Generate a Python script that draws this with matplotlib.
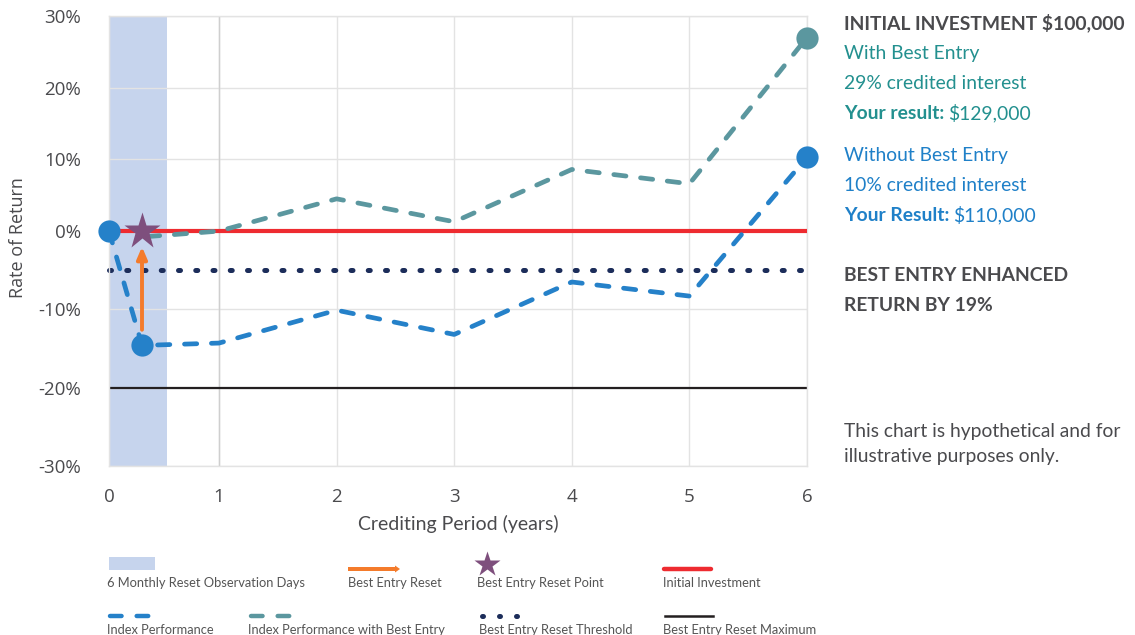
import numpy as np
import matplotlib
matplotlib.use("Agg")
import matplotlib.pyplot as plt
from matplotlib.lines import Line2D
from matplotlib.patches import Rectangle, FancyArrow

# ---------------- data ----------------
years_ticks = [0, 1, 2, 3, 4, 5, 6]
return_ticks = [-30, -20, -10, 0, 10, 20, 30]
return_tick_labels = ["-30%", "-20%", "-10%", "0%", "10%", "20%", "30%"]

index_x = [0, 0.3, 1, 2, 3, 4, 5, 6]
index_y = [0, -14.6, -14.3, -10.1, -13.2, -6.5, -8.3, 10.3]

best_x = [0.35, 1, 2, 3, 4, 5, 6]
best_y = [-0.7, 0, 4.5, 1.3, 8.6, 6.6, 27.0]

observation_end = 0.53          # 6 monthly reset observation window
reset_point_x = 0.3
reset_point_y = 0
reset_arrow_from = -12.6
reset_arrow_to = -2.0
initial_investment = 0
reset_threshold = -5
reset_maximum = -20

# ---------------- colours ----------------
C_BLUE = "#2581c9"
C_TEAL = "#5b979f"
C_RED = "#ee2b30"
C_NAVY = "#1c2d5a"
C_ORANGE = "#f47b2b"
C_STAR = "#7e4f7d"
C_SHADE = "#c6d4ed"
C_BLACK = "#231f20"
C_GRID = "#e3e3e3"
C_TXT = "#4a4a4d"

W, H = 1135, 635
fig = plt.figure(figsize=(W / 100, H / 100), dpi=100)
fig.patch.set_facecolor("white")


def fx_pix(x):
    return x / W


def fy_pix(y):
    return 1 - y / H


ax = fig.add_axes([fx_pix(109), fy_pix(466), (807 - 109) / W, (466 - 16) / H])


# piecewise scales (the reference axis is not perfectly linear)
def yfwd(y):
    y = np.asarray(y, dtype=float)
    return np.where(y >= 0, y * 7.17, y * 7.83)


def yinv(v):
    v = np.asarray(v, dtype=float)
    return np.where(v >= 0, v / 7.17, v / 7.83)


def xfwd(x):
    x = np.asarray(x, dtype=float)
    return np.where(x <= 1, x * 110.0, 110.0 + (x - 1) * 117.6)


def xinv(v):
    v = np.asarray(v, dtype=float)
    return np.where(v <= 110.0, v / 110.0, 1 + (v - 110.0) / 117.6)


ax.set_yscale("function", functions=(yfwd, yinv))
ax.set_xscale("function", functions=(xfwd, xinv))
ax.set_xlim(0, 6)
ax.set_ylim(-30, 30)

# grid
ax.set_xticks(years_ticks)
ax.set_yticks(return_ticks)
ax.set_yticklabels(return_tick_labels)
ax.grid(True, color=C_GRID, lw=1.0)
ax.tick_params(length=0)
ax.tick_params(axis="y", pad=20, labelsize=13.5, labelcolor=C_TXT)
ax.tick_params(axis="x", pad=16, labelsize=13.5, labelcolor=C_TXT)
for lab in ax.get_xticklabels() + ax.get_yticklabels():
    lab.set_fontfamily("Open Sans")
for s in ax.spines.values():
    s.set_color(C_GRID)
    s.set_linewidth(1.0)
# slightly darker gridline at year 1
ax.axvline(1, color="#cfcfcf", lw=1.0, zorder=1.6)

# observation window
ax.axvspan(0, observation_end, color=C_SHADE, lw=0, zorder=1)

# reference lines
ax.plot([0, 6], [reset_maximum] * 2, color=C_BLACK, lw=1.6, zorder=2)
ax.plot([0, 6], [reset_threshold] * 2, color=C_NAVY, lw=3.6,
        dashes=(0.4, 3.05), dash_capstyle="round", zorder=2.5, clip_on=False)
ax.plot([0, 6], [initial_investment] * 2, color=C_RED, lw=3.0, zorder=3)

# performance lines
ax.plot(index_x, index_y, color=C_BLUE, lw=3.4, dashes=(2.6, 3.1),
        dash_capstyle="round", zorder=4)
ax.plot(best_x, best_y, color=C_TEAL, lw=3.4, dashes=(2.6, 3.1),
        dash_capstyle="round", zorder=4)

# markers
ax.plot([index_x[0], index_x[1], index_x[-1]],
        [index_y[0], index_y[1], index_y[-1]],
        "o", color=C_BLUE, ms=16, mec="none", zorder=6, clip_on=False)
ax.plot([best_x[-1]], [best_y[-1]], "o", color=C_TEAL, ms=16, mec="none",
        zorder=6, clip_on=False)
ax.plot([reset_point_x], [reset_point_y], "*", color=C_STAR, ms=28, mec="none", zorder=7)

# best entry reset arrow
ax.annotate("", xy=(reset_point_x, reset_arrow_to),
            xytext=(reset_point_x, reset_arrow_from),
            arrowprops=dict(arrowstyle="-|>,head_length=0.7,head_width=0.3",
                            color=C_ORANGE, lw=2.8, shrinkA=0, shrinkB=0),
            zorder=5)

# axis labels
ax.set_xlabel("Crediting Period (years)", fontsize=14, color=C_TXT,
              family="Lato", labelpad=6)
fig.text(fx_pix(18), fy_pix(238), "Rate of Return", rotation=90, ha="center",
         va="center", fontsize=13, color=C_TXT, family="Open Sans")

# ---------------- right-hand text ----------------
C_TEALTXT = "#23908f"
C_BLUETXT = "#1f80c8"
TX = fx_pix(844)
renderer = fig.canvas.get_renderer()
RSIZE = 13.9


def rtext(y, s, color, bold=False, size=RSIZE):
    return fig.text(TX, fy_pix(y), s, color=color, fontsize=size, family="Lato",
                    fontweight="bold" if bold else "normal", va="baseline", ha="left")


def mixed(y, bold_s, reg_s, color, size=RSIZE):
    t = rtext(y, bold_s, color, bold=True, size=size)
    bb = t.get_window_extent(renderer=renderer)
    x1 = bb.x1 / (fig.dpi * fig.get_figwidth())
    fig.text(x1 + 4 / W, fy_pix(y), reg_s, color=color, fontsize=size, family="Lato",
             va="baseline", ha="left")


rtext(29, "INITIAL INVESTMENT $100,000", C_TXT, bold=True)
rtext(59, "With Best Entry", C_TEALTXT)
rtext(89, "29% credited interest", C_TEALTXT)
mixed(119, "Your result:", "$129,000", C_TEALTXT)
rtext(161, "Without Best Entry", C_BLUETXT)
rtext(191, "10% credited interest", C_BLUETXT)
mixed(221, "Your Result:", "$110,000", C_BLUETXT)
rtext(281, "BEST ENTRY ENHANCED", C_TXT, bold=True)
rtext(311, "RETURN BY 19%", C_TXT, bold=True)
rtext(437, "This chart is hypothetical and for", C_TXT)
rtext(462, "illustrative purposes only.", C_TXT)

# ---------------- legend ----------------
LEG_SIZE = 9.3
LEG_COL = "#555555"


def hline(x0, x1, y, **kw):
    fig.add_artist(Line2D([fx_pix(x0), fx_pix(x1)], [fy_pix(y), fy_pix(y)],
                          transform=fig.transFigure, **kw))


def ltext(x, y, s):
    fig.text(fx_pix(x), fy_pix(y), s, fontsize=LEG_SIZE, color=LEG_COL,
             family="Lato", va="center", ha="left")


# row 1
fig.add_artist(Rectangle((fx_pix(109), fy_pix(570)), 46 / W, 13 / H,
                         transform=fig.transFigure, color=C_SHADE, lw=0))
ltext(107, 583, "6 Monthly Reset Observation Days")
fig.add_artist(FancyArrow(fx_pix(348), fy_pix(569), 52 / W, 0,
                          width=4 / H, head_width=7 / H, head_length=5 / W,
                          length_includes_head=True, color=C_ORANGE,
                          transform=fig.transFigure, lw=0))
ltext(348, 583, "Best Entry Reset")
fig.add_artist(Line2D([fx_pix(487)], [fy_pix(564)], marker="*", ms=19,
                      color=C_STAR, mec="none", transform=fig.transFigure))
ltext(477, 583, "Best Entry Reset Point")
hline(664, 711, 569, color=C_RED, lw=3.2, solid_capstyle="round")
ltext(663, 583, "Initial Investment")

# row 2
hline(110, 151, 616, color=C_BLUE, lw=3.2, dashes=(2.6, 3.4), dash_capstyle="round")
ltext(107, 630, "Index Performance")
hline(251, 292, 616, color=C_TEAL, lw=3.2, dashes=(2.6, 3.4), dash_capstyle="round")
ltext(248, 630, "Index Performance with Best Entry")
hline(482, 518, 616, color=C_NAVY, lw=3.6, dashes=(0.2, 3.2), dash_capstyle="round")
ltext(479, 630, "Best Entry Reset Threshold")
hline(665, 713, 616, color=C_BLACK, lw=1.8)
ltext(663, 630, "Best Entry Reset Maximum")

fig.savefig("out.png", dpi=100, facecolor="white")
